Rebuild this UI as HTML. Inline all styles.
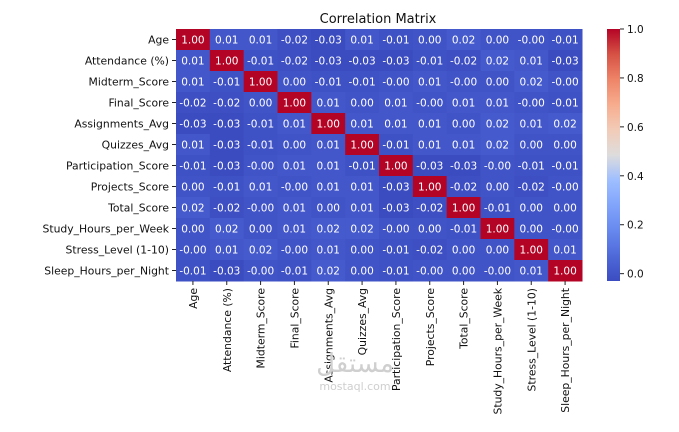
<!DOCTYPE html>
<html><head><meta charset="utf-8"><style>
html,body{margin:0;padding:0;background:#fff;}
svg{display:block;font-family:"DejaVu Sans","Liberation Sans",sans-serif;}
</style></head><body>
<svg id="chart" width="679" height="432">
<defs><linearGradient id="cbg" x1="0" y1="1" x2="0" y2="0"></linearGradient></defs>
<text x="378" y="23" text-anchor="middle" font-size="13" fill="#111">Correlation Matrix</text>
<g id="cells"></g><g id="ylabels"></g><g id="xlabels"></g><g id="cbar"></g>
<g fill="#cfcfcf" text-anchor="middle">
<text x="355" y="372" font-size="26" font-family="'DejaVu Sans',sans-serif">مستقل</text>
<text x="355" y="390" font-size="11">mostaql.com</text></g>
</svg>
<script>
const labels=["Age","Attendance (%)","Midterm_Score","Final_Score","Assignments_Avg","Quizzes_Avg","Participation_Score","Projects_Score","Total_Score","Study_Hours_per_Week","Stress_Level (1-10)","Sleep_Hours_per_Night"];
const values=[
[1.00,0.01,0.01,-0.02,-0.03,0.01,-0.01,0.00,0.02,0.00,-0.001,-0.01],
[0.01,1.00,-0.01,-0.02,-0.03,-0.03,-0.03,-0.01,-0.02,0.02,0.01,-0.03],
[0.01,-0.01,1.00,0.00,-0.01,-0.01,-0.001,0.01,-0.001,0.00,0.02,-0.001],
[-0.02,-0.02,0.00,1.00,0.01,0.00,0.01,-0.001,0.01,0.01,-0.001,-0.01],
[-0.03,-0.03,-0.01,0.01,1.00,0.01,0.01,0.01,0.00,0.02,0.01,0.02],
[0.01,-0.03,-0.01,0.00,0.01,1.00,-0.01,0.01,0.01,0.02,0.00,0.00],
[-0.01,-0.03,-0.001,0.01,0.01,-0.01,1.00,-0.03,-0.03,-0.001,-0.01,-0.01],
[0.00,-0.01,0.01,-0.001,0.01,0.01,-0.03,1.00,-0.02,0.00,-0.02,-0.001],
[0.02,-0.02,-0.001,0.01,0.00,0.01,-0.03,-0.02,1.00,-0.01,0.00,0.00],
[0.00,0.02,0.00,0.01,0.02,0.02,-0.001,0.00,-0.01,1.00,0.00,-0.001],
[-0.001,0.01,0.02,-0.001,0.01,0.00,-0.01,-0.02,0.00,0.00,1.00,0.01],
[-0.01,-0.03,-0.001,-0.01,0.02,0.00,-0.01,-0.001,0.00,-0.001,0.01,1.00]];
const cbTicks=[0.0,0.2,0.4,0.6,0.8,1.0];
const vmin=-0.03, vmax=1.0;
const L=176,T=29,R=582,B=281;
const n=labels.length, cw=(R-L)/n, ch=(B-T)/n;
const stops=[[59,76,192],[79,105,217],[103,136,238],[129,164,251],[158,190,255],[221,220,220],[242,203,183],[247,172,142],[238,132,104],[214,82,68],[180,4,38]];
function color(v){let t=(v-vmin)/(vmax-vmin);t=Math.max(0,Math.min(1,t))*10;const i=Math.min(9,Math.floor(t)),f=t-i;const a=stops[i],b=stops[i+1];return `rgb(${a.map((c,k)=>Math.round(c+(b[k]-c)*f)).join(',')})`;}
function fmt(v){const s=Math.abs(v).toFixed(2);return (v<0?'-':'')+s;}
const NS="http://www.w3.org/2000/svg";
function mk(tag,attrs,parent){const e=document.createElementNS(NS,tag);for(const k in attrs)e.setAttribute(k,attrs[k]);parent.appendChild(e);return e;}
const cells=document.getElementById('cells'),yl=document.getElementById('ylabels'),xl=document.getElementById('xlabels'),cb=document.getElementById('cbar');
for(let r=0;r<n;r++)for(let c=0;c<n;c++){
 const v=values[r][c];
 const rect=mk('rect',{x:L+c*cw,y:T+r*ch,width:cw+0.5,height:ch+0.5,fill:color(v)},cells);
 
 
 const t=mk('text',{x:L+c*cw+cw/2,y:T+r*ch+ch/2+4,'text-anchor':'middle','font-size':'10.5',fill:'#fff'},cells);
 t.textContent=fmt(v);
 
 
}
for(let i=0;i<n;i++){
 const y=T+i*ch+ch/2;
 mk('line',{x1:L-4,x2:L,y1:y,y2:y,stroke:'#222','stroke-width':1},yl);
 const t=mk('text',{x:L-7,y:y+4,'text-anchor':'end','font-size':'10.8',fill:'#111'},yl);
 t.textContent=labels[i];
 
 
 const x=L+i*cw+cw/2;
 mk('line',{x1:x,x2:x,y1:B,y2:B+4,stroke:'#222','stroke-width':1},xl);
 const u=mk('text',{x:0,y:0,'text-anchor':'end','font-size':'10.8',fill:'#111',transform:`translate(${x+4},${B+7}) rotate(-90)`},xl);
 u.textContent=labels[i];
 
 
}
const cx=607,cwid=13;
const g=document.getElementById('cbg');
for(let i=0;i<=20;i++){mk('stop',{offset:(i/20),'stop-color':color(vmin+(vmax-vmin)*i/20)},g);}
const bar=mk('rect',{x:cx,y:T,width:cwid,height:B-T,fill:'url(#cbg)'},cb);


cbTicks.forEach(v=>{
 const y=B-(v-vmin)/(vmax-vmin)*(B-T);
 mk('line',{x1:cx+cwid,x2:cx+cwid+4,y1:y,y2:y,stroke:'#222'},cb);
 const t=mk('text',{x:cx+cwid+7,y:y+4,'font-size':'10.5',fill:'#111'},cb);
 t.textContent=v.toFixed(1);
 
 
});
</script>
</body></html>
